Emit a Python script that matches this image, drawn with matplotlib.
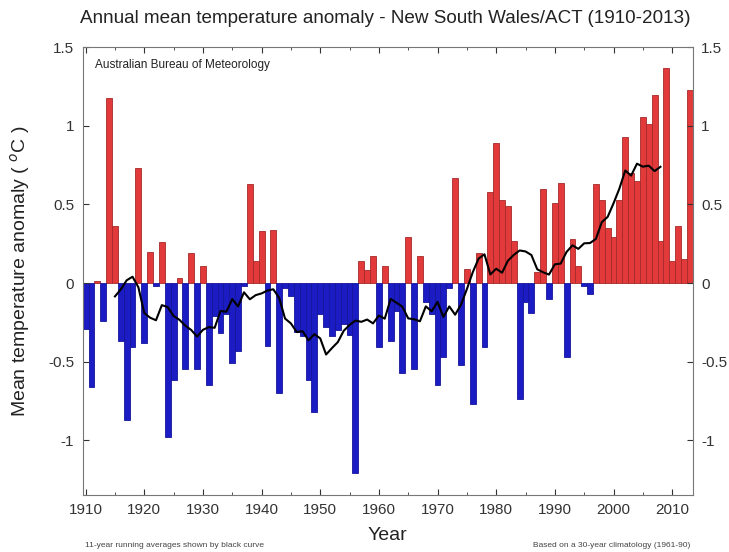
import numpy as np
import matplotlib
matplotlib.use("Agg")
import matplotlib.pyplot as plt
from matplotlib.ticker import MultipleLocator

plt.rcParams['font.family'] = ['Liberation Sans Narrow', 'Liberation Sans', 'DejaVu Sans']

# NSW/ACT annual mean temperature anomaly (deg C, vs 1961-90), one value per year
years = np.arange(1910, 2014)
anom = [
    -0.29, -0.66, 0.01, -0.24, 1.18, 0.36, -0.37, -0.87, -0.41, 0.73,   # 1910s
    -0.38, 0.20, -0.02, 0.26, -0.98, -0.62, 0.03, -0.55, 0.19, -0.55,   # 1920s
    0.11, -0.65, -0.21, -0.32, -0.20, -0.51, -0.43, -0.02, 0.63, 0.14,  # 1930s
    0.33, -0.40, 0.34, -0.70, -0.03, -0.08, -0.31, -0.34, -0.62, -0.82, # 1940s
    -0.20, -0.28, -0.34, -0.30, -0.26, -0.33, -1.21, 0.14, 0.08, 0.17,  # 1950s
    -0.41, 0.11, -0.37, -0.18, -0.57, 0.29, -0.55, 0.17, -0.12, -0.20,  # 1960s
    -0.65, -0.47, -0.03, 0.67, -0.52, 0.09, -0.77, 0.19, -0.41, 0.58,   # 1970s
    0.89, 0.53, 0.49, 0.27, -0.74, -0.12, -0.19, 0.07, 0.60, -0.10,     # 1980s
    0.51, 0.64, -0.47, 0.28, 0.11, -0.02, -0.07, 0.63, 0.53, 0.35,      # 1990s
    0.29, 0.53, 0.93, 0.70, 0.65, 1.06, 1.01, 1.20, 0.27, 1.37,         # 2000s
    0.14, 0.36, 0.15, 1.23,                                             # 2010s
]
anom = np.array(anom)

# 11-year centred running mean
win = 11
run_mean = np.convolve(anom, np.ones(win) / win, mode='valid')
run_years = years[win // 2: len(years) - win // 2]

title = 'Annual mean temperature anomaly - New South Wales/ACT (1910-2013)'

fig = plt.figure(figsize=(7.29, 5.52), dpi=100)
ax = fig.add_axes([0.1134, 0.1033, 0.8368, 0.8107])

pos = anom >= 0
ax.bar(years[pos], anom[pos], width=1.0, color='#e23a3a', edgecolor='#a52a2a', linewidth=0.6)
ax.bar(years[~pos], anom[~pos], width=1.0, color='#1c1cc4', edgecolor='#15159a', linewidth=0.6)
ax.plot(run_years, run_mean, color='black', linewidth=1.5)

ax.set_xlim(1909.5, 2013.5)
ax.set_ylim(-1.35, 1.5)

ax.xaxis.set_major_locator(MultipleLocator(10))
ax.xaxis.set_minor_locator(MultipleLocator(5))
ax.set_yticks([-1, -0.5, 0, 0.5, 1, 1.5])
ax.set_yticklabels(['-1', '-0.5', '0', '0.5', '1', '1.5'])
ax.tick_params(axis='both', which='both', direction='in', top=True, right=True,
               labelright=True, labelsize=11, colors='#333333', pad=6)
ax.tick_params(axis='x', pad=6)
ax.tick_params(which='major', length=4)
ax.tick_params(which='minor', length=2)
for sp in ax.spines.values():
    sp.set_color('#777777')
    sp.set_linewidth(0.8)

ax.set_xlabel('Year', fontsize=14, color='#222222', labelpad=7)
ax.set_ylabel('Mean temperature anomaly ( $^{o}$C )', fontsize=14, color='#222222', labelpad=12)

ax.text(0.02, 0.975, 'Australian Bureau of Meteorology', transform=ax.transAxes,
        fontsize=8.5, color='#222222', va='top', ha='left')

fig.text(0.528, 0.967, title, ha='center', va='center', fontsize=13.6, color='#222222')
fig.text(0.117, 0.006, '11-year running averages shown by black curve', fontsize=6,
         color='#444444', ha='left', va='bottom')
fig.text(0.947, 0.006, 'Based on a 30-year climatology (1961-90)', fontsize=6,
         color='#444444', ha='right', va='bottom')

fig.savefig('out.png', dpi=100)
